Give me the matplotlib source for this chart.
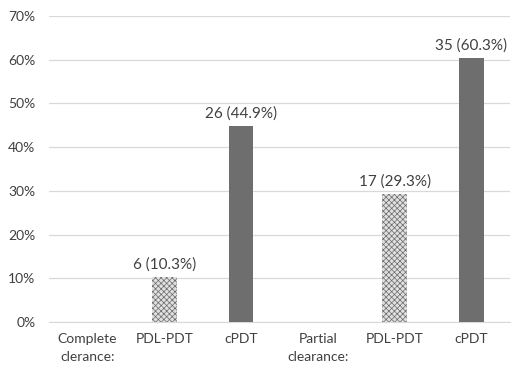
import matplotlib
matplotlib.use("Agg")
import matplotlib.pyplot as plt
from matplotlib.ticker import PercentFormatter

# data
categories = ["Complete\nclerance:", "PDL-PDT", "cPDT", "Partial\nclearance:", "PDL-PDT", "cPDT"]
values = [None, 10.3, 44.9, None, 29.3, 60.3]
counts = [None, 6, 26, None, 17, 35]
kinds = [None, "pdl", "cpdt", None, "pdl", "cpdt"]

plt.rcParams['font.family'] = ['Lato', 'DejaVu Sans']
plt.rcParams['hatch.linewidth'] = 0.5

fig = plt.figure(figsize=(5.23, 3.71), dpi=100)
ax = fig.add_axes([0.094, 0.132, 0.881, 0.825])

x = list(range(len(categories)))
for i, v in enumerate(values):
    if v is None:
        continue
    if kinds[i] == "pdl":
        ax.bar(i, v, width=0.32, color="#e0e0e0", edgecolor="#6a6a6a",
               hatch="xxxxxx", linewidth=0, zorder=3)
    else:
        ax.bar(i, v, width=0.32, color="#6e6e6e", linewidth=0, zorder=3)
    ax.text(i, v + 1.2, f"{counts[i]} ({v}%)", ha="center", va="bottom",
            fontsize=11, color="#404040")

ax.set_ylim(0, 70)
ax.set_xlim(-0.5, len(categories) - 0.5)
ax.set_yticks(range(0, 71, 10))
ax.yaxis.set_major_formatter(PercentFormatter(decimals=0))
ax.set_xticks(x)
ax.set_xticklabels(categories, linespacing=1.6)
ax.tick_params(axis="both", length=0, labelsize=10, colors="#404040")
ax.tick_params(axis="x", pad=8)
ax.tick_params(axis="y", pad=10)
ax.grid(axis="y", color="#d9d9d9", linewidth=0.9, zorder=0)
for s in ["top", "right", "left"]:
    ax.spines[s].set_visible(False)
ax.spines["bottom"].set_color("#d9d9d9")

fig.savefig("out.png", dpi=100)
